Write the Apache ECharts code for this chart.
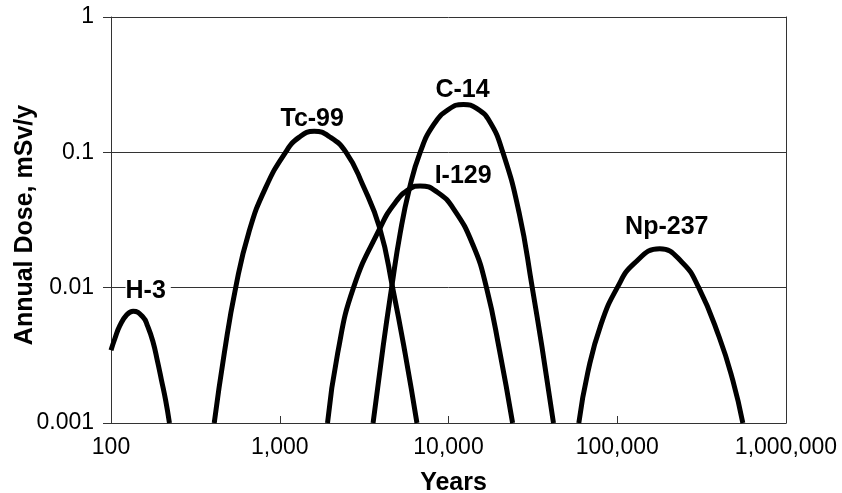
<!DOCTYPE html>
<html>
<head>
<meta charset="utf-8">
<script src="https://cdn.jsdelivr.net/npm/echarts@6/dist/echarts.min.js"></script>
<style>
  html, body { margin: 0; padding: 0; background: #fff; }
  #chart { width: 842px; height: 493px; }
</style>
</head>
<body>
<div id="chart"></div>
<script>
// ---- data ----
const xTickValues = [100, 1000, 10000, 100000, 1000000];
const xTickLabels = ['100', '1,000', '10,000', '100,000', '1,000,000'];
const yTickValues = [0.001, 0.01, 0.1, 1];
const yTickLabels = ['0.001', '0.01', '0.1', '1'];

const seriesNames = ['H-3', 'Tc-99', 'I-129', 'C-14', 'Np-237'];

const h3Years = [100, 105.6, 113, 123.7, 135.3, 155, 165, 177, 189, 199, 211, 222];
const h3Dose  = [0.00345, 0.00423, 0.00526, 0.00628, 0.0067, 0.00605, 0.00518, 0.00402, 0.00282, 0.00208, 0.00146, 0.001];

const tc99Years = [409, 469, 548, 657, 824, 1082, 1300, 1600, 1963, 2472, 3097, 3917, 4667, 5533, 6501];
const tc99Dose  = [0.001, 0.00327, 0.01, 0.0258, 0.0546, 0.1, 0.129, 0.143, 0.131, 0.1, 0.0578, 0.0274, 0.01, 0.00327, 0.001];

const i129Years = [1919, 2203, 2735, 3917, 4820, 5916, 6792, 8551, 10740, 14030, 16790, 20050, 23980];
const i129Dose  = [0.001, 0.00327, 0.01, 0.0274, 0.0423, 0.054, 0.0565, 0.0509, 0.0381, 0.0204, 0.01, 0.00345, 0.001];

const c14Years = [3573, 4100, 4603, 5166, 5866, 6792, 8166, 10040, 12270, 14690, 17530, 20990, 26230, 31360, 35820, 41880];
const c14Dose  = [0.001, 0.00369, 0.01, 0.0251, 0.054, 0.1, 0.16, 0.208, 0.226, 0.211, 0.169, 0.1, 0.0356, 0.01, 0.00363, 0.001];

const np237Years = [59200, 66980, 80100, 100000, 126100, 178600, 241100, 304000, 401700, 483200, 554800];
const np237Dose  = [0.001, 0.00238, 0.00536, 0.01, 0.0151, 0.0194, 0.0155, 0.01, 0.00432, 0.00208, 0.001];

const allYears = [h3Years, tc99Years, i129Years, c14Years, np237Years];
const allDose  = [h3Dose, tc99Dose, i129Dose, c14Dose, np237Dose];

// ---- styling ----
const FONT = "'Liberation Sans', Arial, Helvetica, sans-serif";
const labelOffsets = [[15, -20], [-2, -12], [43, -10], [-1, -14], [7, -22]];
const labelBg = [true, false, false, false, false];

function fmt(values, labels) {
  return function (v) {
    for (let i = 0; i < values.length; i++) {
      if (Math.abs(Math.log10(v) - Math.log10(values[i])) < 1e-6) return labels[i];
    }
    return '';
  };
}

const chart = echarts.init(document.getElementById('chart'), null, { renderer: 'canvas' });

const series = seriesNames.map((name, i) => {
  const ys = allYears[i], ds = allDose[i];
  let peak = 0;
  ds.forEach((d, k) => { if (d > ds[peak]) peak = k; });
  return {
    name: name,
    type: 'line',
    data: ys.map((y, k) => [y, ds[k]]),
    smooth: 0.5,
    showSymbol: false,
    symbol: 'none',
    lineStyle: { color: '#000', width: 5 },
    z: 3,
    markPoint: {
      symbol: 'circle',
      symbolSize: 0,
      silent: true,
      data: [{ coord: [ys[peak], ds[peak]] }],
      label: {
        show: true,
        position: 'inside',
        offset: labelOffsets[i],
        formatter: name,
        fontFamily: FONT,
        fontWeight: 'bold',
        fontSize: 25,
        color: '#000',
        backgroundColor: labelBg[i] ? '#fff' : 'transparent',
        padding: labelBg[i] ? [0, 5, 0, 0] : 0
      }
    }
  };
});

chart.setOption({
  animation: false,
  backgroundColor: '#fff',
  grid: { left: 111, right: 56, top: 17, bottom: 70, outerBoundsMode: 'none', containLabel: false },
  xAxis: {
    type: 'log',
    logBase: 10,
    min: 100,
    max: 1000000,
    name: 'Years',
    nameLocation: 'middle',
    nameGap: 48,
    nameMoveOverlap: false,
    nameTextStyle: { fontFamily: FONT, fontWeight: 'bold', fontSize: 25, color: '#000', padding: [0, 0, 0, 10] },
    axisLine: { show: true, lineStyle: { color: '#333', width: 1 } },
    axisTick: { show: true, inside: true, length: 7, lineStyle: { color: '#333', width: 1 } },
    axisLabel: { fontFamily: FONT, fontSize: 23, color: '#000', margin: 13, formatter: fmt(xTickValues, xTickLabels) },
    splitLine: { show: false },
    minorTick: { show: false }
  },
  yAxis: [{
    type: 'log',
    logBase: 10,
    min: 0.001,
    max: 1,
    name: 'Annual Dose, mSv/y',
    nameLocation: 'middle',
    nameGap: 73,
    nameMoveOverlap: false,
    nameTextStyle: { fontFamily: FONT, fontWeight: 'bold', fontSize: 25, color: '#000', padding: [0, 10, 0, 0] },
    axisLine: { show: true, lineStyle: { color: '#333', width: 1 } },
    axisTick: { show: true, inside: false, length: 8, lineStyle: { color: '#333', width: 1 } },
    axisLabel: { fontFamily: FONT, fontSize: 23, color: '#000', margin: 17, formatter: fmt(yTickValues, yTickLabels) },
    splitLine: { show: true, lineStyle: { color: '#333', width: 1 } }
  }, {
    type: 'log',
    logBase: 10,
    min: 0.001,
    max: 1,
    position: 'right',
    axisLine: { show: true, lineStyle: { color: '#333', width: 1 } },
    axisTick: { show: false },
    axisLabel: { show: false },
    splitLine: { show: false }
  }],
  series: series
});
</script>
</body>
</html>
